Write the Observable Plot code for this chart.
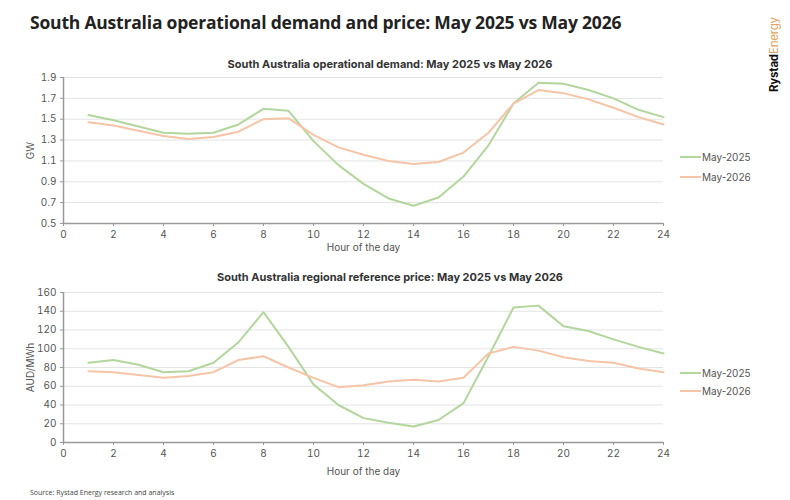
<!DOCTYPE html>
<html>
<head>
<meta charset="utf-8">
<script src="https://cdn.jsdelivr.net/npm/d3@7"></script>
<script src="https://cdn.jsdelivr.net/npm/@observablehq/plot@0.6"></script>
<style>
  html, body { margin:0; padding:0; background:#fff; }
  #wrap { position:relative; width:790px; height:500px; overflow:hidden; background:#fff; }
  .abs { position:absolute; white-space:nowrap; }
  #title { left:30px; top:10px; font-family:"Open Sans", sans-serif; font-weight:700; font-size:17.5px; color:#222; letter-spacing:-0.2px; }
  .sub { font-family:Inter, sans-serif; font-weight:700; font-size:11px; color:#333; left:0; width:780px; text-align:center; }
  .leg { font-family:Inter, sans-serif; font-size:10px; color:#555; display:flex; align-items:center; }
  .leg span.sw { display:inline-block; width:21px; height:2px; margin-right:1px; }
  #source { left:30px; top:488px; font-family:"Open Sans", sans-serif; font-size:7px; color:#444; }
  #logo { left:767px; top:92px; transform:rotate(-90deg); transform-origin:0 0; font-family:Inter, sans-serif; font-size:11.5px; letter-spacing:-0.2px; }
  svg text { font-family: Inter, sans-serif; }
</style>
</head>
<body>
<div id="wrap">
  <div id="title" class="abs">South Australia operational demand and price: May 2025 vs May 2026</div>
  <div id="logo" class="abs"><b style="color:#111">Rystad</b><span style="color:#e0a460">Energy</span></div>
  <div class="abs sub" style="top:57px;">South Australia operational demand: May 2025 vs May 2026</div>
  <div id="chart1" class="abs" style="left:0;top:68px;"></div>
  <div class="abs leg" style="left:680px;top:151px;"><span class="sw" style="background:#b2d69c"></span>May-2025</div>
  <div class="abs leg" style="left:680px;top:171px;"><span class="sw" style="background:#f6c4a6"></span>May-2026</div>
  <div class="abs sub" style="top:270px;">South Australia regional reference price: May 2025 vs May 2026</div>
  <div id="chart2" class="abs" style="left:0;top:283px;"></div>
  <div class="abs leg" style="left:680px;top:367px;"><span class="sw" style="background:#b2d69c"></span>May-2025</div>
  <div class="abs leg" style="left:680px;top:385px;"><span class="sw" style="background:#f6c4a6"></span>May-2026</div>
  <div id="source" class="abs">Source: Rystad Energy research and analysis</div>
</div>
<script>
const hours = [1,2,3,4,5,6,7,8,9,10,11,12,13,14,15,16,17,18,19,20,21,22,23,24];
const demand2025 = [1.54,1.49,1.43,1.37,1.36,1.37,1.45,1.60,1.58,1.29,1.06,0.88,0.74,0.67,0.75,0.95,1.25,1.65,1.85,1.84,1.78,1.70,1.59,1.52];
const demand2026 = [1.47,1.44,1.39,1.34,1.31,1.33,1.38,1.50,1.51,1.35,1.23,1.16,1.10,1.07,1.09,1.18,1.37,1.65,1.78,1.75,1.69,1.61,1.52,1.45];
const price2025 = [85,88,83,75,76,85,107,139,102,62,40,26,21,17,24,42,92,144,146,124,119,110,102,95];
const price2026 = [76,75,72,69,71,75,88,92,80,69,59,61,65,67,65,69,95,102,98,91,87,85,79,75];
const seriesNames = ["May-2025","May-2026"];
const seriesColors = ["#b2d69c","#f6c4a6"];
const xTicks = [0,2,4,6,8,10,12,14,16,18,20,22,24];
const demandTicks = [0.5,0.7,0.9,1.1,1.3,1.5,1.7,1.9];
const priceTicks = [0,20,40,60,80,100,120,140,160];

function rows(a, b) {
  return hours.flatMap((h, i) => [
    {hour: h, value: a[i], series: seriesNames[0]},
    {hour: h, value: b[i], series: seriesNames[1]}
  ]);
}

function chart({data, yDomain, yTicks, yFmt, yLabel, height, marginTop, marginBottom, xLabelOffset}) {
  return Plot.plot({
    width: 790, height, marginLeft: 63, marginRight: 127, marginTop, marginBottom,
    style: {fontSize: "10px", color: "#555", fontFamily: "Inter, sans-serif"},
    x: {domain: [0, 24]},
    y: {domain: yDomain},
    color: {domain: seriesNames, range: seriesColors},
    marks: [
      Plot.gridY(yTicks, {stroke: "#e3e3e3", strokeOpacity: 1, strokeWidth: 1}),
      Plot.axisX(xTicks, {tickSize: 3, stroke: "#999", tickPadding: 4, fill: "#555",
        label: "Hour of the day", labelAnchor: "center", labelArrow: "none", labelOffset: xLabelOffset, fontSize: 10}),
      Plot.axisY(yTicks, {tickSize: 3, stroke: "#999", tickPadding: 4, fill: "#555", tickFormat: yFmt,
        label: yLabel, labelAnchor: "center", labelArrow: "none", labelOffset: 37, fontSize: 10}),
      Plot.ruleX([0], {stroke: "#999", strokeWidth: 1.5}),
      Plot.ruleY([yDomain[0]], {stroke: "#999", strokeWidth: 1.5}),
      Plot.line(data, {x: "hour", y: "value", z: "series", stroke: "series", strokeWidth: 2})
    ]
  });
}

document.getElementById("chart1").append(chart({
  data: rows(demand2025, demand2026), yDomain: [0.5, 1.9], yTicks: demandTicks,
  yFmt: d3.format(".1f"), yLabel: "GW", height: 190, marginTop: 9, marginBottom: 35, xLabelOffset: 27
}));
document.getElementById("chart2").append(chart({
  data: rows(price2025, price2026), yDomain: [0, 160], yTicks: priceTicks,
  yFmt: d3.format("d"), yLabel: "AUD/MWh", height: 200, marginTop: 9, marginBottom: 41, xLabelOffset: 32
}));
</script>
</body>
</html>
